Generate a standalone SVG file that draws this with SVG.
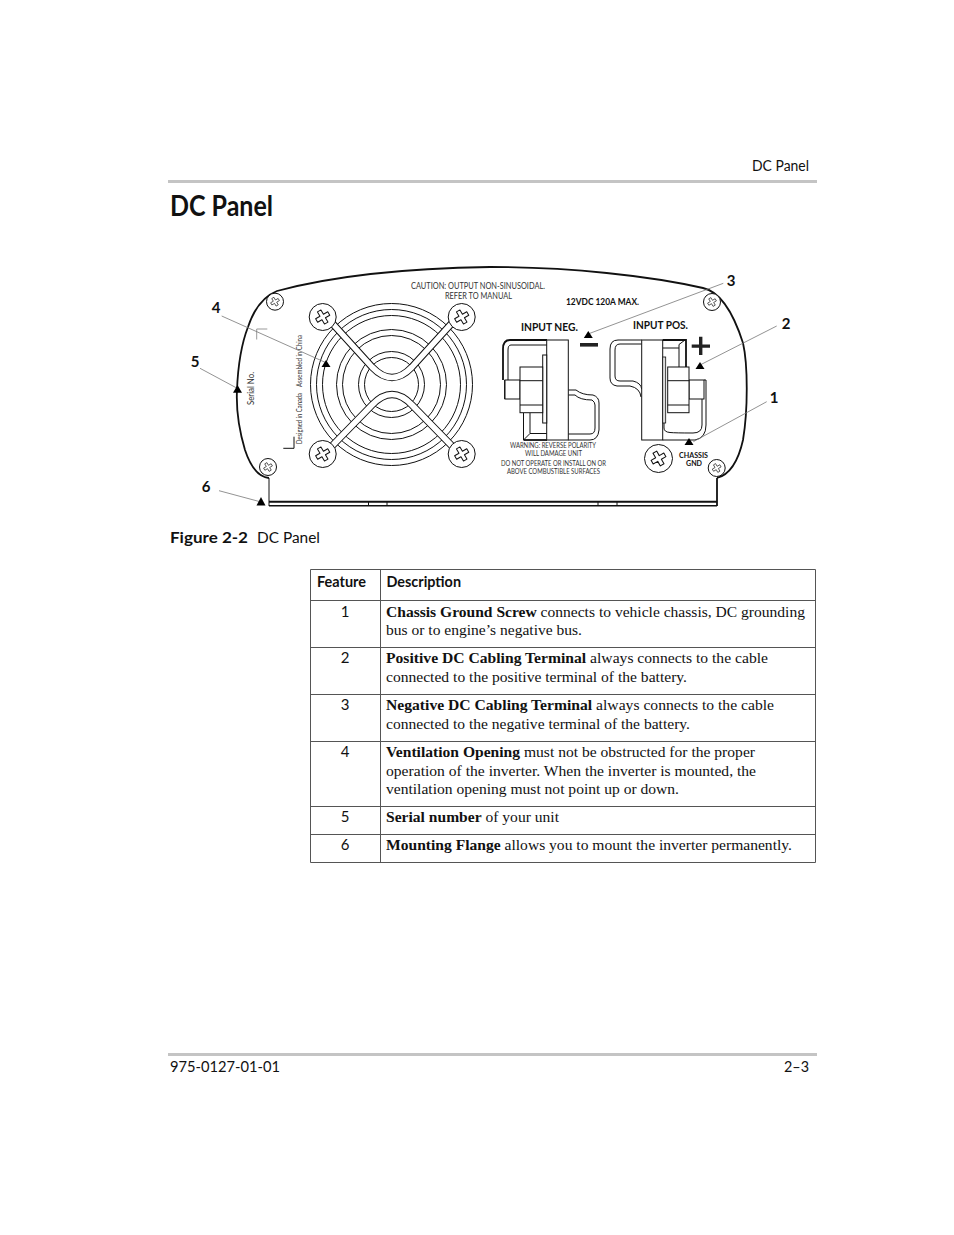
<svg xmlns="http://www.w3.org/2000/svg" xmlns:xlink="http://www.w3.org/1999/xlink" width="954" height="1235" viewBox="0 0 954 1235">
<style>
text{fill:#111}
.s{font-family:Lato,"Open Sans","Liberation Sans",sans-serif}
.m{fill:#333}
.b{font-weight:700}
.t{font-family:"Liberation Serif","Times New Roman",serif;font-size:15px}
.t tspan.h{font-weight:700}
.n{font-family:Lato,"Liberation Sans",sans-serif;font-size:15px;font-weight:700;text-anchor:middle}
.c{font-family:Lato,"Liberation Sans",sans-serif;font-size:15px;text-anchor:middle}
.ln{fill:none;stroke:#111;stroke-width:1}
.th{fill:none;stroke:#111;stroke-width:1.8}
.grid{stroke:#555;stroke-width:1;fill:none}
.lead{stroke:#777;stroke-width:.8;fill:none}
.ar{fill:#000}
.screw{fill:#fff;stroke:#111;stroke-width:1}
.rule{fill:#c4c4c4}
.p{fill:#222}
</style>
<defs>
<path id="cr" d="M-2,-7 H2 V-2 H7 V2 H2 V7 H-2 V2 H-7 V-2 H-2 Z" fill="#fff" stroke="#111" stroke-width="1" stroke-linejoin="round"/>
</defs>
<g id="page-header">
<rect class="rule" x="168" y="180" width="649" height="3"/>
<text class="s" x="752" y="171" font-size="15.5" textLength="57" lengthAdjust="spacingAndGlyphs">DC Panel</text>
<text class="s b" x="170" y="215.5" font-size="28.5" textLength="103" lengthAdjust="spacingAndGlyphs">DC Panel</text>
</g>
<g id="inverter-panel">
<path class="th" d="M269,478 C258,477 250,465 245,450 C239,430 236,410 237,390 C238,365 241,345 248,327 C253,312 262,297 277,291 C340,274 420,268 490,267 C570,267 650,276 703,288 C722,292 735,318 743,343 C748,365 748,410 743,440 C739,458 732,474 717,478"/>
<path class="ln" d="M269,478 V506"/>
<path class="th" d="M717,478 V506"/>
<path d="M269,501.7 H717" fill="none" stroke="#111" stroke-width="2"/>
<path d="M269,505.7 H717" fill="none" stroke="#111" stroke-width="1.6"/>
<path class="ln" d="M368.5,502 V506 M387,502 V506 M598,502 V506 M617,502 V506"/>
<path d="M267.3,329 H256.7 V339.5" fill="none" stroke="#999" stroke-width="1"/>
<path d="M283.3,448.3 H294 V436.7" fill="none" stroke="#111" stroke-width="1"/>
</g>
<g id="fan">
<g class="ln">
<circle cx="391.5" cy="384.5" r="81"/><circle cx="391.5" cy="384.5" r="75"/><circle cx="391.5" cy="384.5" r="69"/>
<circle cx="391.5" cy="384.5" r="55"/><circle cx="391.5" cy="384.5" r="49"/><circle cx="391.5" cy="384.5" r="33"/><circle cx="391.5" cy="384.5" r="27"/>
</g>
<path d="M332,323 L372,367 Q392,388 412,367 L452,323" fill="none" stroke="#111" stroke-width="7.5"/>
<path d="M332,323 L372,367 Q392,388 412,367 L452,323" fill="none" stroke="#fff" stroke-width="5.5"/>
<path d="M332,446 L372,405 Q392,384 412,405 L452,446" fill="none" stroke="#111" stroke-width="7.5"/>
<path d="M332,446 L372,405 Q392,384 412,405 L452,446" fill="none" stroke="#fff" stroke-width="5.5"/>
</g>
<g id="screws">
<g><circle class="screw" cx="322.7" cy="317" r="13.5"/><use href="#cr" transform="translate(322.7,317) rotate(-30)"/></g>
<g><circle class="screw" cx="461.7" cy="317" r="13.5"/><use href="#cr" transform="translate(461.7,317) rotate(-30)"/></g>
<g><circle class="screw" cx="322.7" cy="454" r="13.5"/><use href="#cr" transform="translate(322.7,454) rotate(-30)"/></g>
<g><circle class="screw" cx="461.7" cy="454" r="13.5"/><use href="#cr" transform="translate(461.7,454) rotate(-30)"/></g>
<g><circle class="screw" cx="275" cy="301.7" r="8.5"/><use href="#cr" transform="translate(275,301.7) rotate(-30) scale(.62)"/></g>
<g><circle class="screw" cx="268" cy="467" r="8.5"/><use href="#cr" transform="translate(268,467) rotate(-30) scale(.62)"/></g>
<g><circle class="screw" cx="712" cy="302" r="8.5"/><use href="#cr" transform="translate(712,302) rotate(-30) scale(.62)"/></g>
<g><circle class="screw" cx="716.7" cy="468" r="8.5"/><use href="#cr" transform="translate(716.7,468) rotate(-30) scale(.62)"/></g>
<g><circle class="screw" cx="658.5" cy="458.5" r="14"/><use href="#cr" transform="translate(658.5,458.5) rotate(-30) scale(1.05)"/></g>
</g>
<g id="terminal-negative">
<path class="th" d="M547,340 H510 Q503,340 503,349 V380 M505,380 V399"/>
<path class="ln" d="M547,345 H511 Q508,345 508,350 V380"/>
<path class="th" d="M523.5,440 H547"/>
<path class="ln" d="M523.5,413 V440 M530,413 V433.5 M523.5,440 L530,433.5 M530,433.5 H547"/>
<path class="ln" d="M568.3,390 H576 Q582,395 593,395 Q599,397 599,403 V430 Q598,440 590,440 H568.3 M568.3,395 H575 Q580,400 592,400 Q595,402 595,405 V428 Q595,434 590,434 H568.3"/>
<rect x="546.7" y="340" width="21.6" height="100" fill="#fff" stroke="#111" stroke-width="1"/>
<rect x="542.7" y="355" width="4" height="68" fill="#fff" stroke="#111" stroke-width="1"/>
<rect x="505" y="380" width="15" height="19" fill="#fff" stroke="#111" stroke-width="1"/>
<rect x="520" y="367" width="22.7" height="45.7" fill="#fff" stroke="#111" stroke-width="1"/>
<path class="ln" d="M520,380.7 H542.7 M520,405 H542.7"/>
<rect class="p" x="580" y="343" width="18" height="3.6"/>
</g>
<g id="terminal-positive">
<path class="ln" d="M641.7,340 H618 Q610,340 610,349 V378 Q610,385 617,386 H630 Q640,388 641,397 M641.7,344 H620 Q615,344 615,350 V376 Q615,381 620,381 H633 Q641,383 641.7,389"/>
<path class="th" d="M662.7,340 H686 V367"/>
<path class="ln" d="M662.7,348 H679 M679,344.5 L685,340 M679,344.5 V367"/>
<path class="ln" d="M664,413 L664,428 Q664,432 670,432.5 Q675,433 693,433 Q702,433 702,425 V399 M662.7,440 H695 Q706,438 706,425 V399 M704,380 H706 V399"/>
<rect x="641.7" y="340" width="21" height="100" fill="#fff" stroke="#111" stroke-width="1"/>
<rect x="662.7" y="357" width="3" height="66" fill="#ddd" stroke="#111" stroke-width=".8"/>
<rect x="689" y="380" width="15" height="19" fill="#fff" stroke="#111" stroke-width="1"/>
<rect x="667.7" y="367" width="21.3" height="45.7" fill="#fff" stroke="#111" stroke-width="1"/>
<path class="ln" d="M667.7,380.7 H689 M667.7,405 H689"/>
<path class="p" d="M699,336.7 H702.4 V344.4 H710 V347.8 H702.4 V355 H699 V347.8 H691.7 V344.4 H699 Z"/>
</g>
<g id="panel-labels">
<text class="s m" x="411" y="289" font-size="9" textLength="134" lengthAdjust="spacingAndGlyphs">CAUTION: OUTPUT NON-SINUSOIDAL.</text>
<text class="s m" x="445" y="299" font-size="9" textLength="67" lengthAdjust="spacingAndGlyphs">REFER TO MANUAL</text>
<text class="s b" x="566" y="305" font-size="8.5" textLength="73" lengthAdjust="spacingAndGlyphs">12VDC 120A MAX.</text>
<text class="s b" x="521" y="331" font-size="11" textLength="57" lengthAdjust="spacingAndGlyphs">INPUT NEG.</text>
<text class="s b" x="633" y="329" font-size="11" textLength="55" lengthAdjust="spacingAndGlyphs">INPUT POS.</text>
<text class="s m" x="510" y="448" font-size="7" textLength="86" lengthAdjust="spacingAndGlyphs">WARNING: REVERSE POLARITY</text>
<text class="s m" x="525" y="456" font-size="7" textLength="57" lengthAdjust="spacingAndGlyphs">WILL DAMAGE UNIT</text>
<text class="s m" x="501" y="466" font-size="7" textLength="105" lengthAdjust="spacingAndGlyphs">DO NOT OPERATE OR INSTALL ON OR</text>
<text class="s m" x="507" y="473.5" font-size="7" textLength="93" lengthAdjust="spacingAndGlyphs">ABOVE COMBUSTIBLE SURFACES</text>
<text class="s b" x="679" y="458" font-size="7" textLength="29" lengthAdjust="spacingAndGlyphs">CHASSIS</text>
<text class="s b" x="686" y="466" font-size="7" textLength="16" lengthAdjust="spacingAndGlyphs">GND</text>
<text class="s m" transform="translate(253.5,405) rotate(-90)" font-size="9.5" textLength="33" lengthAdjust="spacingAndGlyphs">Serial No.</text>
<text class="s m" transform="translate(302,444) rotate(-90)" font-size="7" textLength="51" lengthAdjust="spacingAndGlyphs">Designed in Canada</text>
<text class="s m" transform="translate(302,387) rotate(-90)" font-size="7" textLength="52" lengthAdjust="spacingAndGlyphs">Assembled in China</text>
</g>
<g id="connectors">
<path class="lead" d="M723.3,283.3 L588,334"/>
<path class="lead" d="M776.7,326 L700,365"/>
<path class="lead" d="M766.7,401.7 L693.3,441.7"/>
<path class="lead" d="M221.7,316 L326.7,363"/>
<path class="lead" d="M200,368.3 L236.7,388"/>
<path class="lead" d="M219,490.7 L260,501.7"/>
<path class="ar" d="M588.3,331 L592.8,338 H583.8 Z"/>
<path class="ar" d="M700,362 L704.5,369 H695.5 Z"/>
<path class="ar" d="M689,438 L693.5,445 H684.5 Z"/>
<path class="ar" d="M326,360 L330.5,367 H321.5 Z"/>
<path class="ar" d="M237.5,385 L242,392.7 H233 Z"/>
<path class="ar" d="M261,497 L265.5,505.5 H256.5 Z"/>
</g>
<g id="callouts">
<text class="n" x="731" y="286">3</text>
<text class="n" x="786" y="329">2</text>
<text class="n" x="774" y="403">1</text>
<text class="n" x="216" y="313">4</text>
<text class="n" x="195" y="367">5</text>
<text class="n" x="206" y="492">6</text>
</g>
<g id="caption">
<text class="s b" x="170" y="543" font-size="15.5" textLength="78" lengthAdjust="spacingAndGlyphs">Figure 2-2</text>
<text class="s" x="257" y="543" font-size="15.5" textLength="63" lengthAdjust="spacingAndGlyphs">DC Panel</text>
</g>
<g id="feature-table">
<path class="grid" d="M310.5,569.5 H815.5 V862.5 H310.5 Z M380.5,569.5 V862.5 M310.5,600.5 H815.5 M310.5,647.5 H815.5 M310.5,694.5 H815.5 M310.5,741.5 H815.5 M310.5,806.5 H815.5 M310.5,834.5 H815.5"/>
<text class="s b" x="317" y="587" font-size="15" textLength="49" lengthAdjust="spacingAndGlyphs">Feature</text>
<text class="s b" x="386.5" y="587" font-size="15" textLength="74.5" lengthAdjust="spacingAndGlyphs">Description</text>
<text class="c" x="345" y="617">1</text>
<text class="c" x="345" y="663">2</text>
<text class="c" x="345" y="710">3</text>
<text class="c" x="345" y="757">4</text>
<text class="c" x="345" y="822">5</text>
<text class="c" x="345" y="850">6</text>
<text class="t" x="386" y="617" textLength="419" lengthAdjust="spacingAndGlyphs"><tspan class="h">Chassis Ground Screw</tspan> connects to vehicle chassis, DC grounding</text>
<text class="t" x="386" y="635" textLength="196" lengthAdjust="spacingAndGlyphs">bus or to engine’s negative bus.</text>
<text class="t" x="386" y="663" textLength="382" lengthAdjust="spacingAndGlyphs"><tspan class="h">Positive DC Cabling Terminal</tspan> always connects to the cable</text>
<text class="t" x="386" y="682" textLength="301" lengthAdjust="spacingAndGlyphs">connected to the positive terminal of the battery.</text>
<text class="t" x="386" y="710" textLength="388" lengthAdjust="spacingAndGlyphs"><tspan class="h">Negative DC Cabling Terminal</tspan> always connects to the cable</text>
<text class="t" x="386" y="729" textLength="304" lengthAdjust="spacingAndGlyphs">connected to the negative terminal of the battery.</text>
<text class="t" x="386" y="757" textLength="369" lengthAdjust="spacingAndGlyphs"><tspan class="h">Ventilation Opening</tspan> must not be obstructed for the proper</text>
<text class="t" x="386" y="776" textLength="370" lengthAdjust="spacingAndGlyphs">operation of the inverter. When the inverter is mounted, the</text>
<text class="t" x="386" y="794" textLength="293" lengthAdjust="spacingAndGlyphs">ventilation opening must not point up or down.</text>
<text class="t" x="386" y="822" textLength="173" lengthAdjust="spacingAndGlyphs"><tspan class="h">Serial number</tspan> of your unit</text>
<text class="t" x="386" y="850" textLength="406" lengthAdjust="spacingAndGlyphs"><tspan class="h">Mounting Flange</tspan> allows you to mount the inverter permanently.</text>
</g>
<g id="page-footer">
<rect class="rule" x="168" y="1053" width="649" height="3"/>
<text class="s" x="170" y="1072" font-size="15.5" textLength="110" lengthAdjust="spacingAndGlyphs">975-0127-01-01</text>
<text class="s" x="784" y="1072" font-size="15.5" textLength="25" lengthAdjust="spacingAndGlyphs">2–3</text>
</g>
</svg>
